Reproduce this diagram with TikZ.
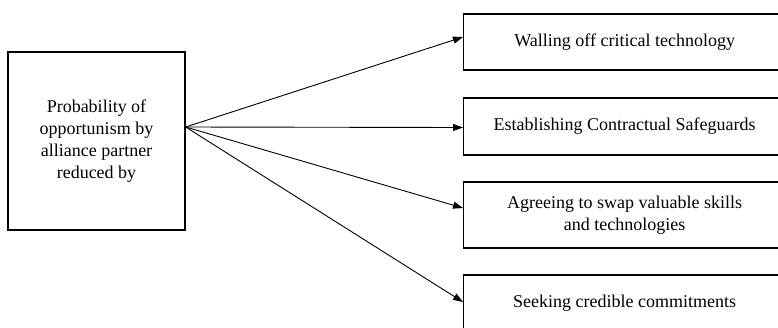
\documentclass[tikz,border=0pt]{standalone}
\usepackage{fontspec}
\setmainfont{Liberation Serif}
\usetikzlibrary{arrows.meta}

\tikzset{
  box/.style={draw,line width=1.3pt,align=center,inner sep=0pt,
    font=\fontsize{18}{22}\selectfont},
  choice/.style={box,anchor=west,minimum width=322pt},
  link/.style={line width=0.9pt,-{Triangle[length=10pt,width=7pt]}}
}

\begin{document}
\begin{tikzpicture}[x=1pt,y=-1pt]
\useasboundingbox (0,0) rectangle (778,327);

\node [box,minimum width=177pt,minimum height=178pt] (prob) at (96.5,141)
  {Probability of\\ opportunism by\\ alliance partner\\ reduced by};

\node [choice,minimum height=56pt] (wall)  at (463,42)  {Walling off critical technology};
\node [choice,minimum height=57pt] (safe)  at (463,126.5) {Establishing Contractual Safeguards};
\node [choice,minimum height=66pt] (swap)  at (463,215) {Agreeing to swap valuable skills\\ and technologies};
\node [choice,minimum height=56pt] (trust) at (463,303) {Seeking credible commitments};

\coordinate (fork) at ([yshift=14pt]prob.east);

\draw [link] (fork) -- ([yshift=5pt]wall.west);
\draw [link] (fork) -- ([yshift=-1pt]safe.west);
\draw [link] (fork) -- ([yshift=7pt]swap.west);
\draw [link] (fork) -- ([yshift=1pt]trust.west);
\end{tikzpicture}
\end{document}
